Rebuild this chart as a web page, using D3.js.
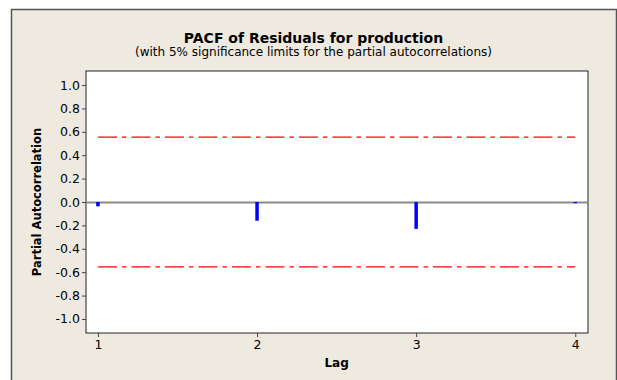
<!DOCTYPE html>
<html>
<head>
<meta charset="utf-8">
<script src="https://cdn.jsdelivr.net/npm/d3@7"></script>
<style>
body { margin: 0; background: #ffffff; }
svg text { font-family: "DejaVu Sans", Verdana, sans-serif; fill: #000; }
</style>
</head>
<body>
<div id="chart"></div>
<script>
// PACF values
var lags = [1, 2, 3, 4];
var pacf = [-0.037, -0.16, -0.23, -0.01];
var limit = 0.5547;   // 2/sqrt(13)
var yTicks = [1.0, 0.8, 0.6, 0.4, 0.2, 0.0, -0.2, -0.4, -0.6, -0.8, -1.0];
var title = 'PACF of Residuals for production';
var subtitle = '(with 5% significance limits for the partial autocorrelations)';

var W = 617, H = 380;
var plot = {left: 86, top: 71, right: 588, bottom: 333};

var svg = d3.select('#chart').append('svg')
    .attr('width', W)
    .attr('height', H);

// beige frame
svg.append('rect')
    .attr('x', 11.5).attr('y', 9.5)
    .attr('width', 605).attr('height', 380)
    .style('fill', '#eeeae0')
    .style('stroke', '#555')
    .style('stroke-width', 1.5);

var x = d3.scaleLinear().domain([0.925, 4.08]).range([plot.left, plot.right]);
var y = d3.scaleLinear().domain([-1.12, 1.12]).range([plot.bottom, plot.top]);

// plot area
svg.append('rect')
    .attr('x', plot.left).attr('y', plot.top)
    .attr('width', plot.right - plot.left)
    .attr('height', plot.bottom - plot.top)
    .style('fill', '#fff')
    .style('stroke', '#222')
    .style('stroke-width', 1);

// titles
svg.append('text')
    .attr('x', 313.5).attr('y', 43)
    .attr('text-anchor', 'middle')
    .style('font-size', '14px')
    .style('font-weight', 'bold')
    .text(title);
svg.append('text')
    .attr('x', 313.5).attr('y', 56)
    .attr('text-anchor', 'middle')
    .style('font-size', '12px')
    .text(subtitle);

// axes (hyphen minus like the original, not d3's unicode minus)
var fmt = function(d) { return d.toFixed(1).replace('\u2212', '-'); };
var yAxis = d3.axisLeft(y)
    .tickValues(yTicks)
    .tickFormat(fmt)
    .tickSize(4)
    .tickPadding(2);
var gy = svg.append('g')
    .attr('transform', 'translate(' + plot.left + ',0)')
    .call(yAxis);
gy.select('.domain').remove();
gy.selectAll('line').style('stroke', '#444');
gy.selectAll('text').style('font-size', '12.5px').style('font-family', '"DejaVu Sans", Verdana, sans-serif');

var xAxis = d3.axisBottom(x)
    .tickValues(lags)
    .tickFormat(d3.format('d'))
    .tickSize(4)
    .tickPadding(3);
var gx = svg.append('g')
    .attr('transform', 'translate(0,' + plot.bottom + ')')
    .call(xAxis);
gx.select('.domain').remove();
gx.selectAll('line').style('stroke', '#444');
gx.selectAll('text').style('font-size', '12.5px').style('font-family', '"DejaVu Sans", Verdana, sans-serif');

// axis labels
svg.append('text')
    .attr('x', x(2.5)).attr('y', 367)
    .attr('text-anchor', 'middle')
    .style('font-size', '12px')
    .style('font-weight', 'bold')
    .text('Lag');
svg.append('text')
    .attr('transform', 'translate(41,' + y(0) + ') rotate(-90)')
    .attr('text-anchor', 'middle')
    .style('font-size', '11.5px')
    .style('font-weight', 'bold')
    .text('Partial Autocorrelation');

// zero line
svg.append('line')
    .attr('x1', plot.left).attr('x2', plot.right)
    .attr('y1', y(0) + 0.5).attr('y2', y(0) + 0.5)
    .style('stroke', '#8a8a8a')
    .style('stroke-width', 2);

// significance limits
[limit, -limit].forEach(function(v) {
    svg.append('line')
        .attr('x1', x(lags[0])).attr('x2', x(lags[lags.length - 1]))
        .attr('y1', y(v)).attr('y2', y(v))
        .style('stroke', '#ff0000')
        .style('stroke-width', 1.2)
        .style('stroke-dasharray', '19,5,4.5,5');
});

// pacf spikes
for (var i = 0; i < lags.length; i++)
{
    svg.append('line')
        .attr('x1', x(lags[i])).attr('x2', x(lags[i]))
        .attr('y1', y(0)).attr('y2', y(pacf[i]))
        .style('stroke', '#0000ff')
        .style('stroke-width', 3.5);
}
</script>
</body>
</html>
